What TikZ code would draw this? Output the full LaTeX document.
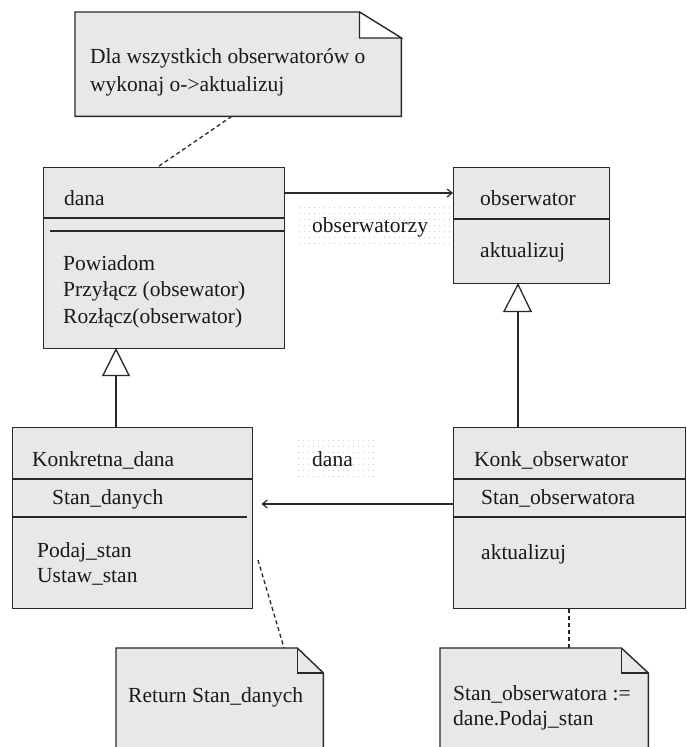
\documentclass[tikz,border=0pt]{standalone}
\usepackage{fontspec}
\newfontfamily\umlserif{Liberation Serif}
\usetikzlibrary{calc,arrows.meta}

\definecolor{boxgray}{RGB}{232,232,232}
\definecolor{linecol}{RGB}{40,40,40}
\definecolor{textcol}{RGB}{25,25,25}
\definecolor{dotgray}{RGB}{205,205,205}

\tikzset{
  umlbox/.style={draw=linecol, fill=boxgray, line width=1.4pt, inner sep=0pt, anchor=north west},
  hole/.style={draw=none, fill=none, inner sep=0pt, anchor=north west},
  sepline/.style={draw=linecol, line width=1.4pt},
  noteline/.style={draw=linecol, fill=boxgray, line width=1.4pt, line join=miter},
  txt/.style={anchor=base west, inner sep=0pt, text=textcol,
              font={\umlserif\fontsize{21.5}{26}\selectfont}},
  assoc/.style={draw=linecol, line width=1.3pt, -{Straight Barb[length=5pt,width=8pt,line width=1.2pt]}},
  notelink/.style={draw=linecol, line width=1.3pt, dash pattern=on 4pt off 3pt},
  genline/.style={draw=linecol, line width=1.4pt},
  gentri/.style={draw=linecol, fill=white, line width=1.3pt, line join=miter},
}

\begin{document}
\begin{tikzpicture}[x=1pt, y=-1pt]
\useasboundingbox (0,0) rectangle (686,747);
\fill[white] (0,0) rectangle (686,747);

% faint dotted backgrounds of the association labels
\foreach \i in {0,...,30}{
  \foreach \j in {0,...,6}{
    \fill[dotgray] (299+5*\i,207+6*\j) rectangle +(1,1);
  }
}
\foreach \i in {0,...,15}{
  \foreach \j in {0,...,6}{
    \fill[dotgray] (298+5*\i,440+6*\j) rectangle +(1,1);
  }
}

% ---------- class boxes ----------
\node[umlbox, minimum width=241pt, minimum height=181pt] (dana) at (43,167) {};
\draw[sepline] ($(dana.north west)+(0,51)$) -- ($(dana.north east)+(0,51)$);
\draw[sepline] ($(dana.north west)+(7,64)$) -- ($(dana.north east)+(0,64)$);

\node[umlbox, minimum width=156pt, minimum height=116pt] (obs) at (453,167) {};
\draw[sepline] ($(obs.north west)+(0,52)$) -- ($(obs.north east)+(0,52)$);

\node[umlbox, minimum width=240pt, minimum height=181pt] (konkd) at (12,427) {};
\draw[sepline] ($(konkd.north west)+(0,52)$) -- ($(konkd.north east)+(0,52)$);
\draw[sepline] ($(konkd.north west)+(0,90)$) -- ($(konkd.north east)+(-6,90)$);

\node[umlbox, minimum width=232pt, minimum height=181pt] (konkobs) at (453,427) {};
\draw[sepline] ($(konkobs.north west)+(0,52)$) -- ($(konkobs.north east)+(0,52)$);
\draw[sepline] ($(konkobs.north west)+(0,90)$) -- ($(konkobs.north east)+(0,90)$);

% ---------- notes (dog-eared) ----------
\node[hole, minimum width=326pt, minimum height=104pt] (topnote) at (75,12) {};
\path[noteline] (topnote.south west) -- (topnote.north west)
  -- ($(topnote.north east)+(-42,0)$) -- ($(topnote.north east)+(0,26)$)
  -- (topnote.south east) -- cycle;
\filldraw[draw=linecol, fill=white, line width=1.2pt]
  ($(topnote.north east)+(-42,0)$) -- ($(topnote.north east)+(-42,26)$)
  -- ($(topnote.north east)+(0,26)$) -- cycle;

\node[hole, minimum width=207pt, minimum height=112pt] (retnote) at (116,648) {};
\path[noteline] (retnote.south west) -- (retnote.north west)
  -- ($(retnote.north east)+(-26,0)$) -- ($(retnote.north east)+(0,25)$)
  -- (retnote.south east) -- cycle;
\draw[draw=linecol, line width=1.2pt]
  ($(retnote.north east)+(-26,0)$) -- ($(retnote.north east)+(-26,25)$)
  -- ($(retnote.north east)+(0,25)$);

\node[hole, minimum width=208pt, minimum height=112pt] (stnote) at (440,648) {};
\path[noteline] (stnote.south west) -- (stnote.north west)
  -- ($(stnote.north east)+(-27,0)$) -- ($(stnote.north east)+(0,25)$)
  -- (stnote.south east) -- cycle;
\draw[draw=linecol, line width=1.2pt]
  ($(stnote.north east)+(-27,0)$) -- ($(stnote.north east)+(-27,25)$)
  -- ($(stnote.north east)+(0,25)$);

% ---------- texts ----------
\node[txt] (t1) at (90,63) {Dla wszystkich obserwatorów o};
\node[txt] (t2) at (90,91) {wykonaj o->aktualizuj};

\node[txt] (dname) at (64,205) {dana};
\node[txt] (dop1) at (63,270) {Powiadom};
\node[txt] (dop2) at (63,296) {Przyłącz (obsewator)};
\node[txt] (dop3) at (63,323) {Rozłącz(obserwator)};

\node[txt] (oname) at (480,205) {obserwator};
\node[txt] (oop) at (480,257) {aktualizuj};

\node[txt] (lblobs) at (312,232) {obserwatorzy};
\node[txt] (lbldana) at (312,466) {dana};

\node[txt] (kdname) at (32,466) {Konkretna\_dana};
\node[txt] (kdattr) at (52,504) {Stan\_danych};
\node[txt] (kdop1) at (37,557) {Podaj\_stan};
\node[txt] (kdop2) at (37,582) {Ustaw\_stan};

\node[txt] (koname) at (474,466) {Konk\_obserwator};
\node[txt] (koattr) at (481,504) {Stan\_obserwatora};
\node[txt] (koop) at (481,559) {aktualizuj};

\node[txt] (rettxt) at (128,702) {Return Stan\_danych};
\node[txt] (st1) at (453,700) {Stan\_obserwatora :=};
\node[txt] (st2) at (453,725) {dane.Podaj\_stan};

% ---------- connectors ----------
% note links
\draw[notelink] ($(topnote.south west)!0.48!(topnote.south east)$)
  -- ($(dana.north west)!0.473!(dana.north east)$);
\coordinate (retfree) at (258,560);
\draw[notelink] (retfree) -- ($(retnote.north west)+(168,0)$);
\draw[notelink] ($(konkobs.south west)+(116,0)$) -- ($(stnote.north west)+(129,0)$);

% associations
\draw[assoc] ($(dana.north east)+(0,26)$) -- ($(obs.north west)+(0,26)$);
\draw[assoc] ($(konkobs.north west)+(0,77)$) -- ($(konkd.north east)+(8,77)$);

% generalizations
\draw[genline] ($(konkd.north west)+(104,0)$) -- ($(dana.south west)+(73,26)$);
\filldraw[gentri] ($(dana.south west)+(73,0)$) -- ($(dana.south west)+(60,26)$)
  -- ($(dana.south west)+(86,26)$) -- cycle;

\draw[genline] ($(konkobs.north west)+(65,0)$) -- ($(obs.south west)+(65,27)$);
\filldraw[gentri] ($(obs.south west)+(65,0)$) -- ($(obs.south west)+(51,27)$)
  -- ($(obs.south west)+(78,27)$) -- cycle;
\end{tikzpicture}
\end{document}
